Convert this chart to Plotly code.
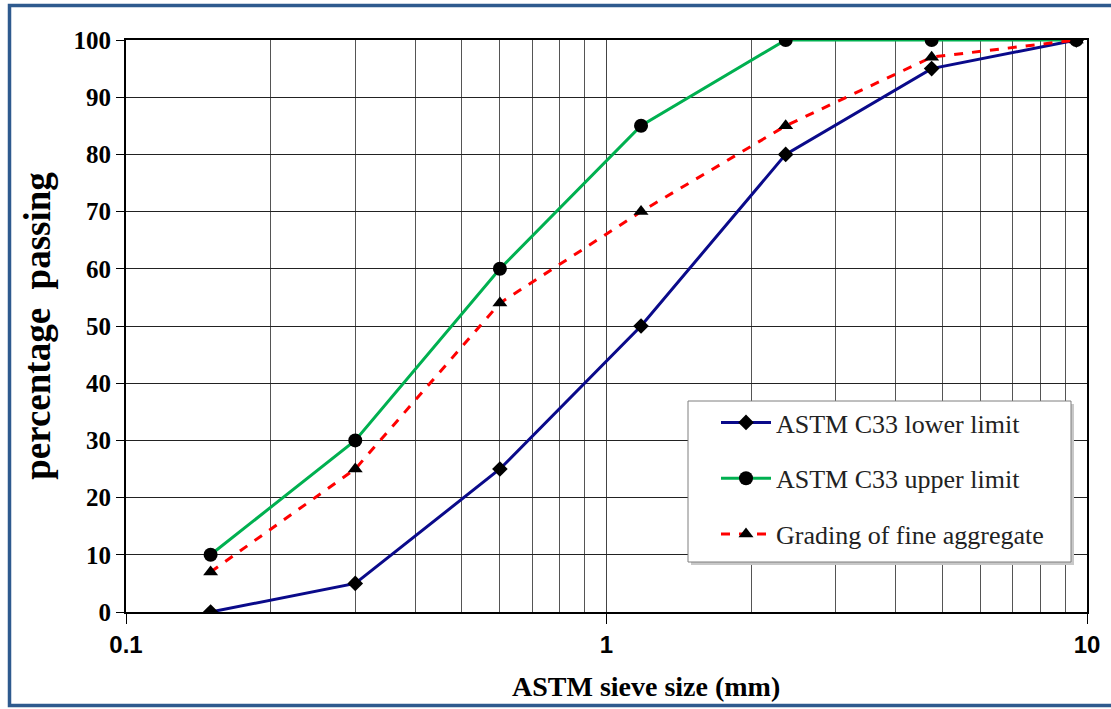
import plotly.graph_objects as go

sieve_mm = [0.15, 0.3, 0.6, 1.18, 2.36, 4.75, 9.5]
lower_limit = [0, 5, 25, 50, 80, 95, 100]
upper_limit = [10, 30, 60, 85, 100, 100, 100]
fine_grading = [7, 25, 54, 70, 85, 97, 100]

x_ticks = [0.1, 1, 10]
x_tick_text = ["0.1", "1", "10"]
x_minor = [0.2, 0.3, 0.4, 0.5, 0.6, 0.7, 0.8, 0.9, 2, 3, 4, 5, 6, 7, 8, 9]
y_ticks = list(range(0, 101, 10))

W, H = 1111, 709
ML, MR, MT, MB = 126, 24, 40, 97
pw, ph = W - ML - MR, H - MT - MB

def px_to_paper_x(p):
    return (p - ML) / pw

def px_to_paper_y(p):
    return (H - MB - p) / ph

serif = "Liberation Serif"
sans = "Liberation Sans"

fig = go.Figure()
fig.add_trace(go.Scatter(
    x=sieve_mm, y=lower_limit, name="ASTM C33 lower limit", mode="lines+markers",
    line=dict(color="#0a0a8a", width=3),
    marker=dict(symbol="diamond", size=12, color="#000000"),
    legendgroup="a"))
fig.add_trace(go.Scatter(
    x=sieve_mm, y=upper_limit, name="ASTM C33 upper limit", mode="lines+markers",
    line=dict(color="#00b050", width=3),
    marker=dict(symbol="circle", size=14, color="#000000"),
    legendgroup="b"))
fig.add_trace(go.Scatter(
    x=sieve_mm, y=fine_grading, name="Grading of fine aggregate", mode="lines+markers",
    line=dict(color="#ff0000", width=3, dash="dash"),
    marker=dict(symbol="triangle-up", size=13, color="#000000"),
    legendgroup="c"))

# legend box with shadow + blue outer frame
lx0, ly0, lx1, ly1 = 688, 401, 1071, 562
shapes = [
    dict(type="rect", xref="paper", yref="paper",
         x0=px_to_paper_x(lx0 + 3), x1=px_to_paper_x(lx1 + 3),
         y0=px_to_paper_y(ly1 + 3), y1=px_to_paper_y(ly0 + 3),
         fillcolor="#c8c8c8", line=dict(width=0), layer="above"),
    dict(type="rect", xref="paper", yref="paper",
         x0=px_to_paper_x(lx0), x1=px_to_paper_x(lx1),
         y0=px_to_paper_y(ly1), y1=px_to_paper_y(ly0),
         fillcolor="#ffffff", line=dict(color="#7f7f7f", width=1), layer="above"),
    dict(type="rect", xref="paper", yref="paper",
         x0=px_to_paper_x(9.5), x1=px_to_paper_x(1125),
         y0=px_to_paper_y(705.5), y1=px_to_paper_y(5.5),
         fillcolor="rgba(0,0,0,0)", line=dict(color="#2e5a8e", width=3.5), layer="above"),
]

annotations = [
    dict(text="<b>ASTM sieve size (mm)</b>", xref="paper", yref="paper",
         x=px_to_paper_x(646), y=px_to_paper_y(686), xanchor="center", yanchor="middle",
         showarrow=False, font=dict(family=serif, size=28, color="#000")),
]

fig.update_layout(
    width=W, height=H,
    margin=dict(l=ML, r=MR, t=MT, b=MB),
    paper_bgcolor="#ffffff", plot_bgcolor="#ffffff",
    showlegend=True,
    legend=dict(
        x=px_to_paper_x(716), y=px_to_paper_y(ly0 - 2), xanchor="left", yanchor="top",
        bgcolor="rgba(0,0,0,0)", borderwidth=0,
        font=dict(family=serif, size=26, color="#222222"),
        traceorder="grouped", tracegroupgap=19, itemwidth=50,
    ),
    shapes=shapes,
    annotations=annotations,
    xaxis=dict(
        type="log", range=[-1, 1],
        tickvals=x_ticks, ticktext=x_tick_text,
        ticks="outside", ticklen=10, tickcolor="#000", tickwidth=1,
        tickfont=dict(family=sans, size=24, color="#000", weight="bold"),
        showgrid=True, gridcolor="#444444", gridwidth=1,
        minor=dict(tickvals=x_minor, showgrid=True, gridcolor="#555555", gridwidth=1, ticks=""),
        showline=True, linecolor="#000", linewidth=2, mirror=True,
        zeroline=False,
    ),
    yaxis=dict(
        range=[0, 100], tickvals=y_ticks,
        ticks="outside", ticklen=8, tickcolor="#000", tickwidth=1,
        tickfont=dict(family=serif, size=25, color="#000", weight="bold"),
        showgrid=True, gridcolor="#222222", gridwidth=1,
        showline=True, linecolor="#000", linewidth=2, mirror=True,
        zeroline=False,
        title=dict(text="percentage  passing", standoff=12,
                   font=dict(family=serif, size=37, color="#000", weight="bold")),
    ),
)

fig.write_html("out.html", config={"displayModeBar": False},
               post_script="document.body.style.margin='0';")
